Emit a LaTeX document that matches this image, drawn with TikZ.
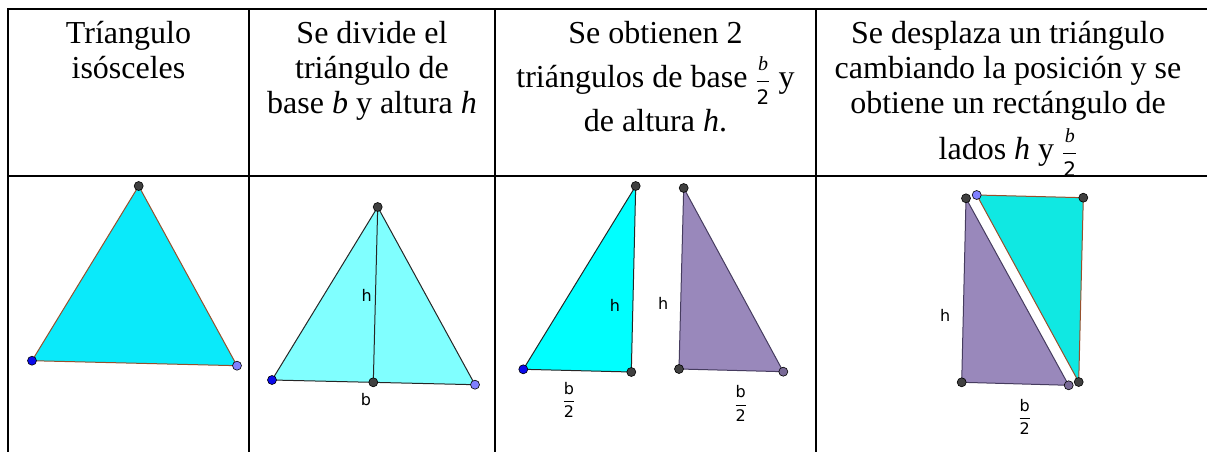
\documentclass[tikz,border=0pt]{standalone}
\usepackage{amsmath}
\usepackage{fontspec}
\setmainfont{Liberation Serif}
\setsansfont{DejaVu Sans}
\usepackage{tikz}
\usetikzlibrary{positioning}
\definecolor{cyanA}{RGB}{10,234,250}
\definecolor{cyanB}{RGB}{128,255,255}
\definecolor{cyanC}{RGB}{0,255,255}
\definecolor{cyanD}{RGB}{16,232,226}
\definecolor{lila}{RGB}{153,136,187}
\definecolor{lilaedge}{RGB}{70,60,95}
\definecolor{brownedge}{RGB}{150,80,45}
\definecolor{ptdark}{RGB}{64,64,64}
\definecolor{ptblue}{RGB}{10,10,235}
\definecolor{ptlight}{RGB}{128,128,255}
\definecolor{ptlila}{RGB}{120,105,150}

\tikzset{
  head/.style={anchor=north, align=center, inner sep=0pt, font=\fontsize{32}{35}\selectfont},
  lbl/.style={inner sep=0pt, font=\sffamily\fontsize{16}{18}\selectfont},
  pt/.style={circle, draw=black, line width=0.6pt, minimum size=9pt, inner sep=0pt},
  tab/.style={line width=2pt, line cap=rect}
}
\newcommand{\halfb}{$\dfrac{\textsf{b}}{\textsf{2}}$}
\newcommand{\vb}{\textit{b}}
\newcommand{\vh}{\textit{h}}
\newcommand{\fsmall}{\fontsize{20}{20}\selectfont}
\newcommand{\bhalf}{\smash{$\dfrac{\text{\fsmall\itshape b}}{\text{\fsmall\sffamily 2}}$}}

\begin{document}
\begin{tikzpicture}[x=1pt, y=-1pt]
    \useasboundingbox (0,0) rectangle (1207,452);

    % Header texts
    \node[head] (t1) at (128.5,21) {Tríangulo\\isósceles};
    \node[head] (t2) at (372,21) {Se divide el\\triángulo de\\base \vb{} y altura \vh};
    \node[head] (t3) at (655.5,21) {Se obtienen 2\\[9pt]triángulos de base \bhalf{} y\\[9pt]de altura \vh.};
    \node[head] (t4) at (1008,21) {Se desplaza un triángulo\\cambiando la posición y se\\obtiene un rectángulo de\\[11pt]lados \vh{} y \bhalf};

    % Table lines
    \draw[tab] (7.5,9) -- (1207,9);
    \draw[tab] (7.5,176) -- (1207,176);
    \foreach \x in {7.5,249,494.7,815.7} {
        \draw[tab] (\x,9) -- (\x,452);
    }

    % Cell 1: isosceles triangle
    \coordinate (A1) at (32,360.7);
    \coordinate (B1) at (237,365.7);
    \coordinate (C1) at (138.7,186);
    \filldraw[fill=cyanA, draw=brownedge, line width=1pt] (A1) -- (B1) -- (C1) -- cycle;
    \node[pt, fill=ptblue] (pA1) at (A1) {};
    \node[pt, fill=ptlight] (pB1) at (B1) {};
    \node[pt, fill=ptdark] (pC1) at (C1) {};

    % Cell 2: divided triangle with height
    \coordinate (A2) at (272,380);
    \coordinate (B2) at (475,384.7);
    \coordinate (C2) at (377.7,207);
    \coordinate (H2) at (373.3,382.3);
    \filldraw[fill=cyanB, draw=black!85, line width=1pt] (A2) -- (B2) -- (C2) -- cycle;
    \draw[black!85, line width=1pt] (C2) -- (H2);
    \node[pt, fill=ptblue] (pA2) at (A2) {};
    \node[pt, fill=ptlight] (pB2) at (B2) {};
    \node[pt, fill=ptdark] (pC2) at (C2) {};
    \node[pt, fill=ptdark] (pH2) at (H2) {};
    \node[lbl] (h2) at (366.7,295.3) {h};
    \node[lbl] (b2) at (366,399.3) {b};

    % Cell 3: two right triangles
    \coordinate (A3) at (523.3,369.3);
    \coordinate (B3) at (631.3,372);
    \coordinate (C3) at (635.7,186);
    \filldraw[fill=cyanC, draw=black!85, line width=1pt] (A3) -- (B3) -- (C3) -- cycle;
    \node[pt, fill=ptblue] (pA3) at (A3) {};
    \node[pt, fill=ptdark] (pB3) at (B3) {};
    \node[pt, fill=ptdark] (pC3) at (C3) {};
    \node[lbl] (h3a) at (615,305) {h};
    \node[lbl] (b3a) at (569,400) {\halfb};

    \coordinate (D3) at (679,369);
    \coordinate (E3) at (783.3,371.7);
    \coordinate (F3) at (683.7,188);
    \filldraw[fill=lila, draw=lilaedge, line width=1pt] (D3) -- (E3) -- (F3) -- cycle;
    \node[pt, fill=ptdark] (pD3) at (D3) {};
    \node[pt, fill=ptlila] (pE3) at (E3) {};
    \node[pt, fill=ptdark] (pF3) at (F3) {};
    \node[lbl] (h3b) at (663.3,303.3) {h};
    \node[lbl] (b3b) at (740.7,403.3) {\halfb};

    % Cell 4: rectangle from the two halves
    \coordinate (D4) at (961.7,382.3);
    \coordinate (E4) at (1068.7,385.3);
    \coordinate (F4) at (966,198.3);
    \filldraw[fill=lila, draw=lilaedge, line width=1pt] (D4) -- (E4) -- (F4) -- cycle;
    \coordinate (A4) at (976.7,195);
    \coordinate (B4) at (1083.3,197.7);
    \coordinate (C4) at (1078.7,382);
    \filldraw[fill=cyanD, draw=brownedge, line width=1pt] (A4) -- (B4) -- (C4) -- cycle;
    \node[pt, fill=ptdark] (pD4) at (D4) {};
    \node[pt, fill=ptlila] (pE4) at (E4) {};
    \node[pt, fill=ptdark] (pF4) at (F4) {};
    \node[pt, fill=ptlight] (pA4) at (A4) {};
    \node[pt, fill=ptdark] (pB4) at (B4) {};
    \node[pt, fill=ptdark] (pC4) at (C4) {};
    \node[lbl] (h4) at (945.3,315.7) {h};
    \node[lbl] (b4) at (1024.7,416.7) {\halfb};
\end{tikzpicture}
\end{document}
